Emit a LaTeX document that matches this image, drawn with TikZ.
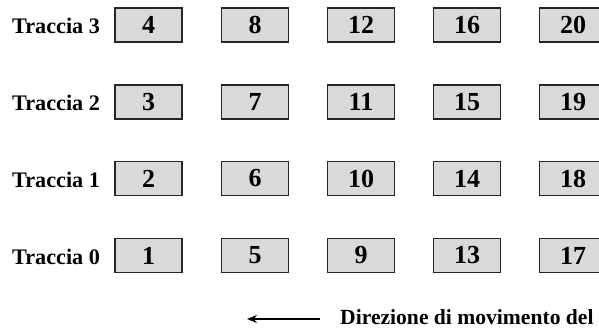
\documentclass[tikz,border=0pt]{standalone}
\usepackage{fontspec}
\setmainfont{Liberation Serif}
\usetikzlibrary{arrows.meta}

\begin{document}
\begin{tikzpicture}[x=1pt,y=1pt]

      \useasboundingbox (0,0) rectangle (599,329);

      \begin{scope}[every node/.style={anchor=west,inner sep=0pt,
          font=\bfseries\fontsize{22.2}{25}\selectfont}]
        \node (t3) at (12,303) {Traccia 3};
        \node (t2) at (12,226) {Traccia 2};
        \node (t1) at (12,149.5) {Traccia 1};
        \node (t0) at (12,72.5) {Traccia 0};
      \end{scope}

      \begin{scope}[every node/.style={rectangle,draw=black!85,line width=1.6pt,
          fill=gray!30,minimum width=67pt,minimum height=34pt,inner sep=0pt,
          font=\bfseries\fontsize{26}{29}\selectfont}]
        \node (4)  at (148.5,304)  {4};
        \node (8)  at (255,304)    {8};
        \node (12) at (361,304)    {12};
        \node (16) at (467,304)    {16};
        \node (20) at (573,304)    {20};
        \node (3)  at (148.5,227)  {3};
        \node (7)  at (255,227)    {7};
        \node (11) at (361,227)    {11};
        \node (15) at (467,227)    {15};
        \node (19) at (573,227)    {19};
        \node (2)  at (148.5,150.5) {2};
        \node (6)  at (255,150.5)  {6};
        \node (10) at (361,150.5)  {10};
        \node (14) at (467,150.5)  {14};
        \node (18) at (573,150.5)  {18};
        \node (1)  at (148.5,73.5) {1};
        \node (5)  at (255,73.5)   {5};
        \node (9)  at (361,73.5)   {9};
        \node (13) at (467,73.5)   {13};
        \node (17) at (573,73.5)   {17};
      \end{scope}

      \node[anchor=base west,inner sep=0pt,font=\bfseries\fontsize{21.6}{24}\selectfont]
        (dir) at (340,5) {Direzione di movimento del};

      \coordinate (from) at (320,10);
      \coordinate (to) at (247,10);
      \draw[line width=1.2pt,-{Stealth[length=10pt,width=8pt]}] (from) -- (to);

    \end{tikzpicture}
\end{document}
